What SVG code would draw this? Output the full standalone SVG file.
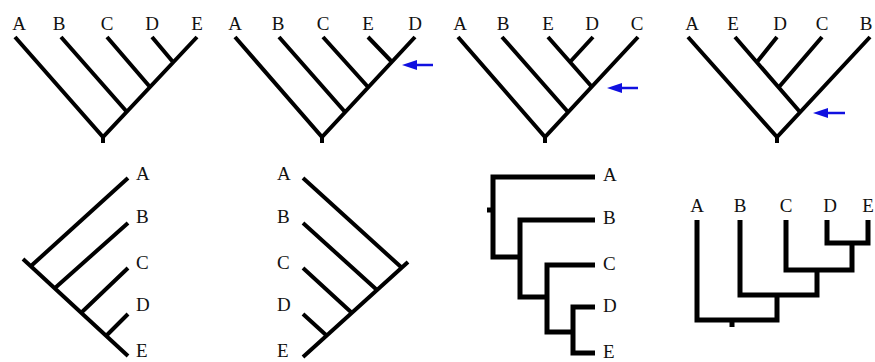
<svg xmlns="http://www.w3.org/2000/svg" width="875" height="362" viewBox="0 0 875 362">
<style>
text{font-family:"Liberation Serif","Times New Roman",serif;font-size:19px;fill:#111}
.m{text-anchor:middle}
.b{stroke:#000;stroke-width:4;fill:none;stroke-linecap:butt}
.r{stroke:#000;stroke-width:5;fill:none;stroke-linecap:butt;stroke-linejoin:miter}
.arr{stroke:#1010e0;stroke-width:2.5;marker-end:url(#ah)}
</style>
<defs>
<marker id="ah" markerUnits="userSpaceOnUse" markerWidth="16" markerHeight="12" refX="0" refY="5" orient="auto">
<path d="M0,0 L15,5 L0,10 z" fill="#1010e0"/>
</marker>
</defs>
<rect width="875" height="362" fill="#fff"/>

<g id="tree1">
<text class="m" x="19" y="30">A</text><text class="m" x="59" y="30">B</text><text class="m" x="107" y="30">C</text><text class="m" x="152" y="30">D</text><text class="m" x="197" y="30">E</text>
<g class="b">
<path d="M15,37 L103,137 L197,37 M103,137 V143 M61,37 L127,112 M107,37 L150,87 M152,37 L173,62"/>
</g>
</g>

<g id="tree2">
<text class="m" x="235" y="30">A</text><text class="m" x="278" y="30">B</text><text class="m" x="323" y="30">C</text><text class="m" x="368" y="30">E</text><text class="m" x="415" y="30">D</text>
<g class="b">
<path d="M235,37 L322,137 L415,37 M322,137 V143 M279,37 L345,112 M323,37 L368,87 M368,37 L392,62"/>
</g>
</g>

<g id="tree3">
<text class="m" x="460" y="30">A</text><text class="m" x="503" y="30">B</text><text class="m" x="548" y="30">E</text><text class="m" x="592" y="30">D</text><text class="m" x="637" y="30">C</text>
<g class="b">
<path d="M458,37 L545,137 L638,37 M545,137 V143 M502,37 L568,112 M548,37 L592,87 M593,37 L570,62"/>
</g>
</g>

<g id="tree4">
<text class="m" x="692" y="30">A</text><text class="m" x="733" y="30">E</text><text class="m" x="780" y="30">D</text><text class="m" x="822" y="30">C</text><text class="m" x="866" y="30">B</text>
<g class="b">
<path d="M688,37 L777,137 L870,37 M777,137 V143 M735,37 L800,112 M777,37 L757,62 M822,37 L779,87"/>
</g>
</g>

<g id="tree5">
<text x="136" y="180">A</text><text x="136" y="223">B</text><text x="136" y="269">C</text><text x="136" y="311">D</text><text x="136" y="357">E</text>
<g class="b">
<path d="M23,259 L128,356 M128,178 L31,266 M128,223 L55,288 M128,268 L82,312 M128,314 L107,335"/>
</g>
</g>

<g id="tree6">
<text x="277" y="180">A</text><text x="277" y="223">B</text><text x="277" y="269">C</text><text x="277" y="311">D</text><text x="277" y="357">E</text>
<g class="b">
<path d="M408,262 L303,357 M303,178 L401,267 M303,223 L377,290 M303,268 L352,313 M303,314 L326,335"/>
</g>
</g>

<g id="tree7">
<text x="603" y="181">A</text><text x="603" y="224">B</text><text x="603" y="270">C</text><text x="603" y="312">D</text><text x="603" y="358">E</text>
<g class="r">
<path d="M595,177 H493 V257 H520 M595,220 H520 V297 H547 M595,265 H547 V332 H573 M595,307 H573 V353 H595 M493,210 H487"/>
</g>
</g>

<g id="tree8">
<text class="m" x="697" y="212">A</text><text class="m" x="740" y="212">B</text><text class="m" x="786" y="212">C</text><text class="m" x="830" y="212">D</text><text class="m" x="868" y="212">E</text>
<g class="r">
<path d="M697,220 V320 H777 V295 M740,220 V295 H817 V270 M786,220 V270 H852 V243 M827,220 V243 H870.5 M868,220 V245.5"/>
<path d="M732,320 V327"/>
</g>
</g>

<g id="connectors">
<line class="arr" x1="433" y1="65" x2="417" y2="65"/>
<line class="arr" x1="638" y1="88" x2="622" y2="88"/>
<line class="arr" x1="845" y1="113" x2="828" y2="113"/>
</g>
</svg>
